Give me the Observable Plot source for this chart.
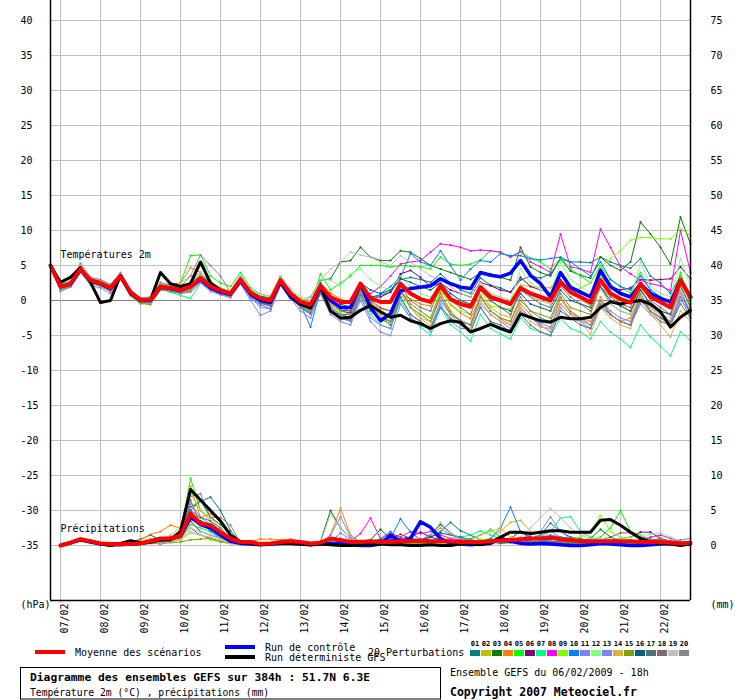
<!DOCTYPE html>
<html><head><meta charset="utf-8">
<script src="https://cdn.jsdelivr.net/npm/d3@7"></script>
<script src="https://cdn.jsdelivr.net/npm/@observablehq/plot@0.6"></script>
<style>
body{margin:0;background:#fff}
#wrap{position:relative;width:740px;height:700px;font-family:'DejaVu Sans Mono',monospace}
#wrap svg{display:block}
</style>
</head><body><div id="wrap"></div>
<script>
// ---- axis ticks / labels ----
const leftTicks = [-35,-30,-25,-20,-15,-10,-5,0,5,10,15,20,25,30,35,40];
const rightTicks = [0,5,10,15,20,25,30,35,40,45,50,55,60,65,70,75];
const precipBase = -35; // 0 mm on the right axis sits at -35 on the left axis
const dayLabels = ["07/02","08/02","09/02","10/02","11/02","12/02","13/02","14/02","15/02","16/02","17/02","18/02","19/02","20/02","21/02","22/02"];
const dayIdx = dayLabels.map((d,k)=>1+4*k); // step index (6h steps) of each 00h
const memberNames = ["01","02","03","04","05","06","07","08","09","10","11","12","13","14","15","16","17","18","19","20"];
const memberColors = ["#008080","#c0c000","#008000","#ff8000","#00ff00","#800080","#00ff80","#ff00ff","#80ff00","#0080ff","#8080ff","#80ff80","#8080ff","#e0b040","#80a000","#006080","#507080","#806870","#c0c0c0","#888888"];

// ---- temperature 2m (°C), 65 steps of 6h ----
const tMean = [5.0,2.0,2.4,4.5,2.9,2.5,1.8,3.5,1.2,0.1,0.1,2.0,1.8,1.5,2.0,3.2,2.0,1.4,1.0,3.0,1.1,0.3,0.0,2.9,1.0,-0.2,-0.6,2.1,0.5,-0.2,-0.2,2.4,0.3,-0.2,-0.2,2.4,1.0,0.2,-0.2,2.1,0.2,-0.5,-0.9,1.9,0.5,0.0,-0.5,1.8,1.0,0.5,0.0,2.6,1.2,0.5,-0.3,2.9,1.0,0.2,-0.3,2.4,0.5,-0.2,-1.0,2.9,0.5];
const tCtrl = [5.0,2.0,2.3,4.4,2.8,2.4,1.7,3.5,1.1,0.0,0.0,1.9,1.7,1.4,2.0,3.0,1.8,1.2,0.9,2.8,0.9,0.0,-0.3,2.6,0.5,-0.5,-1.0,1.8,0.0,-1.0,-1.0,2.4,-1.0,-2.9,-1.9,1.4,1.7,1.9,2.1,3.1,2.4,1.9,1.7,4.0,3.6,3.4,3.9,5.7,3.6,2.4,0.5,4.0,1.9,1.2,0.5,4.3,2.0,1.0,0.5,2.4,1.0,0.3,-0.2,2.9,0.5];
const tDet = [5.0,2.6,3.3,4.7,2.6,-0.3,0.0,3.6,1.0,0.1,0.1,4.0,2.4,2.0,2.4,5.5,2.5,1.5,1.0,3.0,1.0,0.2,-0.2,2.8,0.8,-0.5,-1.0,2.0,-1.5,-2.5,-2.4,-1.4,-0.7,-1.6,-2.4,-2.1,-2.9,-3.3,-4.0,-3.3,-2.9,-3.1,-4.5,-4.0,-3.4,-4.0,-4.5,-1.9,-2.4,-2.9,-3.1,-2.4,-2.6,-2.6,-2.4,-1.0,-0.2,-0.5,-0.2,0.0,-0.5,-1.6,-3.8,-2.4,-1.4];
const t01 = [5,1.8,2.2,4.3,2.7,2.3,1.6,3.4,1.0,0.0,0.2,2.2,1.9,1.7,2.5,3.6,2.4,1.6,1.1,3.1,1.3,0.4,-0.1,2.5,0.6,-0.8,-1.4,2.0,-0.6,-1.4,-1.5,1.9,0.5,0.8,1.2,3.0,3.3,3.0,2.6,3.8,2.5,1.5,1.0,3.2,2.2,1.8,1.2,2.9,3.5,3.2,3.8,5.9,5.5,5.5,5.4,6.2,5.5,5.0,4.6,6.0,3.5,2.5,1.0,3.5,-0.5];
const t02 = [5,1.4,2.0,4.2,2.5,2.0,1.3,3.2,0.6,-0.5,-0.4,1.6,1.4,1.2,1.6,3.0,1.8,1.0,0.6,2.6,0.6,-0.3,-0.6,2.6,0.4,-1.0,-1.8,1.6,-1.5,-2.8,-2.6,1.5,-1.2,-2.5,-3.0,1.6,-1.0,-2.6,-3.6,1.2,-1.8,-2.8,-3.5,0.8,-1.0,-2.0,-2.4,2.2,2.0,1.9,1.8,3.9,1.5,0.2,-0.8,4.8,1.0,-0.5,-1.6,2.0,-1.0,-2.5,-3.2,3.6,0.5];
const t03 = [5,2.2,2.6,4.6,3.0,2.6,2.0,3.6,1.3,0.2,0.3,2.3,2.0,1.8,2.6,4.0,2.4,1.6,1.2,3.2,1.4,0.6,0.4,3.3,1.0,0.0,0.5,2.9,3.1,5.5,5.7,7.6,6.2,5.7,5.7,7.1,6.9,6.0,5.0,4.5,4.0,3.5,3.0,4.0,3.8,3.3,2.9,7.6,4.8,4.0,3.5,6.0,4.2,3.6,3.2,6.2,5.0,4.3,5.5,11.2,9.5,7.6,5.2,11.9,8.1];
const t04 = [5,2.0,2.5,4.6,3.0,2.7,2.0,3.7,1.4,0.3,0.3,2.4,2.3,2.5,4.7,4.0,2.6,1.8,1.3,3.0,1.0,0.2,-0.3,2.6,1.2,0.3,-0.3,2.5,1.1,0.2,-0.2,1.8,-0.3,-1.2,-1.5,1.0,0.2,-0.5,-0.8,1.6,-0.6,-1.8,-2.6,0.6,-1.5,-2.6,-3.5,-0.5,-2.0,-3.8,-4.0,0.3,-1.8,-2.5,-3.0,0.5,-2.0,-3.0,-2.5,0.6,-1.6,-2.4,-3.0,0.5,-1.2];
const t05 = [5,2.3,2.8,4.8,3.2,2.8,2.2,3.9,1.4,0.4,0.5,2.6,1.5,2.5,6.4,6.5,3.5,2.5,2.0,4.0,1.8,0.9,0.6,3.4,1.2,-0.5,-0.8,3.8,1.5,2.5,3.5,5.0,5.0,5.0,4.8,5.0,4.9,4.8,4.5,6.2,5.2,5.0,5.2,5.8,7.1,6.9,6.2,7.0,6.0,5.5,4.5,6.0,4.5,3.5,2.5,5.0,3.0,2.0,1.0,4.0,1.5,0.5,-0.5,4.0,-0.5];
const t06 = [5,1.9,2.3,4.4,2.9,2.6,1.9,3.6,1.1,0.0,0.2,2.0,1.7,1.4,1.9,3.1,1.9,1.3,0.8,2.9,0.9,0.0,-0.3,2.8,0.6,-0.3,-1.0,2.0,-0.5,-1.5,-1.8,1.5,0.5,0.5,1.2,3.8,4.3,3.3,2.0,2.5,1.5,1.0,0.5,2.6,2.1,1.5,1.2,3.3,2.0,1.5,1.0,3.0,1.6,1.0,0.8,3.5,2.0,1.5,1.8,3.0,2.9,3.0,3.1,4.8,3.1];
const t07 = [5,1.6,2.0,4.3,2.6,2.2,1.5,3.3,0.9,-0.3,-0.2,1.7,1.2,0.7,0.3,2.5,1.5,1.0,0.6,2.7,0.8,-0.2,-0.5,2.6,0.5,-0.8,-1.5,1.5,-1.0,-2.5,-3.0,0.5,-2.0,-3.5,-4.0,0.0,-2.5,-3.8,-5.0,-1.0,-3.5,-4.5,-5.8,-2.0,-4.0,-4.8,-5.5,-2.5,-4.0,-4.5,-5.0,-2.5,-4.0,-4.5,-5.5,-3.0,-4.5,-5.5,-6.7,-3.5,-5.2,-6.5,-7.9,-4.5,-5.7];
const t08 = [5,2.0,2.4,4.5,2.8,2.4,1.7,3.4,1.1,0.0,0.0,2.1,1.9,1.6,2.2,3.3,2.1,1.3,0.8,2.9,0.8,-0.4,-0.8,2.7,0.5,-0.5,-1.2,1.8,-1.5,-2.6,-2.2,1.5,1.0,2.0,3.5,5.2,5.5,5.7,6.9,8.1,7.9,7.6,7.1,7.2,7.1,6.9,6.2,7.0,5.5,4.8,4.0,9.5,4.8,4.5,4.0,10.2,7.6,4.8,3.8,2.9,2.4,2.1,1.4,10.0,4.0];
const t09 = [5,1.7,2.2,4.3,2.7,2.3,1.6,3.3,0.9,-0.3,-0.3,1.8,1.5,1.3,1.8,3.0,1.8,1.2,0.8,3.0,0.9,0.0,-0.4,2.8,0.7,-0.8,-1.5,1.5,-0.8,-1.8,-2.5,1.0,-1.5,-2.8,-3.2,1.0,-1.0,-2.0,-2.5,1.5,-0.5,-1.5,-2.0,1.5,-0.8,-1.0,-1.2,2.0,0.5,0.0,-0.5,2.5,1.5,1.8,2.5,4.8,6.0,7.1,8.6,9.0,9.0,8.8,8.8,10.2,9.3];
const t10 = [5,1.8,2.3,4.4,2.9,2.4,1.6,3.4,1.1,0.1,0.1,2.0,1.7,1.4,1.8,2.9,1.6,1.0,0.5,2.6,0.4,-0.6,-1.2,2.5,0.5,-0.5,-3.8,1.5,-1.5,-2.0,-2.0,1.0,-0.5,1.0,2.0,3.3,6.7,5.5,5.0,7.1,5.0,2.9,4.5,5.7,5.5,6.7,6.4,6.4,6.0,5.8,6.0,6.2,5.5,4.5,3.5,5.5,3.0,2.0,1.5,3.5,1.5,0.5,-0.5,3.0,0.0];
const t11 = [5,1.3,1.9,4.0,2.2,1.8,1.0,3.0,0.7,-0.4,-0.3,1.6,1.3,1.0,1.2,2.5,1.3,0.8,0.4,2.4,0.0,-2.1,-1.5,2.2,0.3,-1.5,-2.5,1.0,-2.0,-3.0,-3.5,0.0,-3.0,-4.5,-5.0,-0.5,-2.5,-3.5,-4.0,0.0,-2.0,-2.8,-3.5,-0.5,-2.0,-3.0,-4.0,-1.0,-2.5,-3.2,-3.8,-0.5,-2.0,-2.8,-3.5,0.0,-1.5,-2.5,-3.0,0.5,-1.0,-2.0,-3.0,1.0,-2.0];
const t12 = [5,2.1,2.6,4.7,3.1,2.8,2.1,3.8,1.4,0.3,0.4,2.4,2.0,1.7,2.3,3.5,2.3,1.7,1.4,3.6,1.6,0.8,0.6,3.4,1.5,0.5,0.0,3.0,2.9,2.0,3.8,4.5,3.0,2.0,1.5,3.5,2.0,1.0,0.5,2.5,1.0,0.0,-0.5,2.5,1.0,0.5,0.0,4.5,2.5,1.5,1.0,5.5,3.0,2.0,1.0,3.5,1.5,0.5,0.0,5.5,2.0,1.0,0.5,6.0,2.0];
const t13 = [5,1.5,2.0,4.2,2.5,2.1,1.3,3.2,0.8,-0.2,-0.2,1.7,1.4,1.1,1.5,2.7,1.5,1.0,0.5,2.6,0.5,-1.0,-1.2,2.4,0.4,-1.0,-2.0,1.2,-1.0,-2.5,-3.0,0.5,-2.5,-3.5,-4.0,0.5,-2.0,-3.0,-4.5,-0.5,-3.0,-4.0,-4.0,-1.0,-3.0,-4.0,-4.2,-1.5,-2.5,-3.5,-4.5,-1.0,-2.5,-3.0,-4.0,-1.0,-2.0,-3.0,-3.5,-0.5,-2.0,-3.0,-3.5,0.0,-1.5];
const t14 = [5,1.9,2.4,4.5,2.9,2.6,1.8,3.5,1.2,0.0,0.1,2.0,2.0,2.5,3.5,3.8,2.8,1.5,0.9,2.9,0.9,0.0,-0.5,2.6,0.6,-0.5,-1.0,1.5,-0.5,-1.5,-2.0,1.0,-1.5,-2.5,-3.0,1.2,-1.0,-2.5,-3.0,0.5,-2.0,-3.5,-4.0,0.0,-2.0,-3.0,-3.5,-1.0,-3.0,-3.8,-4.0,-0.5,-2.0,-3.0,-4.8,-1.0,-2.5,-3.5,-4.0,0.5,-2.0,-3.5,-5.2,-1.5,-3.0];
const t15 = [5,1.6,2.1,4.2,2.6,2.1,1.4,3.2,0.8,-0.4,-0.6,1.5,1.3,1.0,1.4,2.8,1.6,1.0,0.6,2.6,0.6,-0.2,-0.6,2.5,0.4,-0.8,-1.5,1.5,-1.0,-2.0,-2.5,1.5,-1.0,-2.0,-3.0,1.5,-0.5,-1.5,-2.5,1.0,-1.5,-3.0,-3.5,0.5,-1.5,-2.5,-3.0,0.0,-1.5,-2.0,-2.5,1.0,-1.0,-1.5,-2.0,2.0,-0.5,-1.5,-2.0,1.5,-0.5,-1.5,-2.0,2.5,-1.0];
const t16 = [5,2.0,2.5,4.6,3.0,2.6,1.9,3.6,1.2,0.1,0.2,2.1,1.9,1.6,2.1,3.3,2.1,1.5,1.1,3.1,1.2,0.4,0.1,3.0,1.0,-0.3,-0.8,2.5,0.5,-0.5,-1.0,2.5,1.5,1.0,1.5,3.1,2.6,2.0,1.5,2.5,1.0,0.0,-0.5,1.5,0.0,-1.0,-1.5,1.0,-0.5,-1.0,-1.5,1.5,0.0,-0.5,-1.0,2.0,0.0,-0.8,-1.5,1.5,-0.5,-1.5,-2.0,1.5,-1.8];
const t17 = [5,1.8,2.3,4.4,2.8,2.4,1.7,3.4,1.0,-0.1,0.0,1.9,1.6,1.3,1.8,3.0,1.8,1.2,0.7,2.8,0.7,-0.3,-0.7,2.6,0.4,-1.0,-1.8,1.0,-1.5,-2.5,-2.8,0.8,-1.5,-2.5,-3.5,0.5,-2.0,-3.0,-4.0,-1.0,-2.5,-3.5,-4.5,-1.0,-3.0,-3.5,-4.5,-2.0,-3.5,-4.5,-5.0,-1.5,-2.5,-3.5,-4.0,-0.5,-2.0,-3.0,-3.5,0.0,-1.5,-2.5,-3.5,-0.5,-2.5];
const t18 = [5,1.9,2.4,4.6,3.0,2.7,2.0,3.6,1.3,0.2,0.2,2.1,1.8,1.5,2.0,3.4,2.1,1.4,1.0,3.0,1.0,0.2,-0.2,2.9,0.8,-0.5,-1.2,2.0,0.0,-1.0,-1.5,2.0,0.0,-1.0,-1.5,2.0,0.0,-1.0,-1.5,2.0,0.0,-1.0,-2.0,1.5,0.0,-1.0,-2.0,1.5,0.5,-0.5,-1.0,2.0,0.5,-0.5,-1.5,2.0,0.5,-0.5,-1.0,2.5,0.0,-1.0,-2.0,2.0,-1.0];
const t19 = [5,2.2,2.7,4.9,3.2,2.9,2.2,3.9,1.5,0.4,0.5,2.4,2.1,1.9,2.6,4.0,2.6,1.8,1.4,3.5,1.6,0.9,0.7,3.5,1.8,0.0,0.5,3.0,4.5,5.5,6.9,6.5,6.2,5.5,5.0,6.4,5.5,4.5,3.5,2.9,2.0,1.0,0.5,2.5,1.0,0.5,0.0,2.0,0.5,0.0,-0.5,2.5,1.0,0.0,-0.5,1.5,-0.5,-1.5,-2.0,1.0,-1.0,-2.0,-2.5,1.5,-1.5];
const t20 = [5,2.1,2.6,5.3,3.3,3.0,2.3,4.0,1.5,0.3,0.4,2.5,2.2,2.0,3.5,6.5,5.0,3.5,1.2,3.3,1.3,0.5,0.2,3.1,1.0,-1.0,-1.5,1.5,-1.0,-2.0,-2.5,1.0,-1.5,-2.5,-3.0,1.5,-1.0,-2.0,-3.0,0.5,-2.0,-3.0,-3.5,0.5,-1.5,-2.5,-3.0,0.5,-1.5,-2.5,-3.0,0.5,-1.5,-2.5,-3.5,0.0,-2.0,-3.0,-3.5,1.0,-1.5,-3.0,-3.5,0.5,-2.5];

// ---- precipitation (mm per 6h), first step has no value ----
const pMean = [null,0.0,0.4,0.9,0.6,0.3,0.2,0.2,0.2,0.3,0.6,1.0,1.0,1.4,4.6,3.1,2.9,1.9,1.0,0.5,0.5,0.2,0.3,0.5,0.6,0.5,0.3,0.4,1.0,0.8,0.5,0.5,0.6,0.5,0.5,0.6,0.6,0.7,0.6,0.6,0.6,0.5,0.5,0.5,0.6,0.7,0.8,0.9,1.0,1.0,1.1,0.9,0.8,0.6,0.6,0.6,0.6,0.6,0.6,0.5,0.5,0.5,0.4,0.3,0.4];
const pCtrl = [null,0.0,0.4,0.8,0.5,0.2,0.1,0.1,0.2,0.3,0.5,0.9,1.0,1.3,4.1,3.0,2.5,1.5,0.6,0.3,0.2,0.1,0.2,0.3,0.3,0.2,0.1,0.2,0.3,0.2,0.1,0.0,0.0,0.2,1.5,0.5,1.0,3.4,2.6,1.0,0.3,0.2,0.1,0.2,0.3,1.0,0.6,0.3,0.2,0.3,0.2,0.1,0.0,0.0,0.1,0.3,0.2,0.1,0.0,0.0,0.1,0.2,0.3,0.2,0.3];
const pDet = [null,0.0,0.4,0.8,0.6,0.2,0.0,0.3,0.7,0.4,0.5,0.8,0.8,2.0,8.0,6.5,5.0,3.5,1.5,0.5,0.3,0.1,0.2,0.3,0.3,0.2,0.1,0.2,0.1,0.0,0.0,0.1,0.1,0.2,0.1,0.1,0.0,0.0,0.1,0.0,0.0,0.2,0.3,0.1,0.4,1.2,1.9,1.9,1.7,1.9,2.1,2.1,1.9,1.9,1.9,3.6,3.7,2.9,1.9,1.0,0.5,0.3,0.2,0.0,0.2];
const p01 = [null,0.0,0.3,0.8,0.5,0.2,0.1,0.3,0.5,0.9,1.5,0.8,1.2,2.0,5.5,6.3,6.9,5.0,2.1,0.5,0.3,0.1,0.2,0.3,0.2,0.1,0.1,0.2,0.4,0.3,0.2,0.3,0.6,0.9,2.0,0.8,0.5,0.6,1.2,2.0,3.3,2.1,1.5,0.8,0.5,0.3,0.4,0.6,1.0,1.5,3.2,2.0,1.2,1.0,0.6,0.4,0.3,0.3,0.4,0.5,0.4,0.3,0.3,0.2,0.3];
const p02 = [null,0.0,0.4,0.9,0.6,0.3,0.2,0.1,0.2,0.3,0.4,0.5,0.8,1.0,3.0,2.5,2.0,1.2,0.6,0.3,0.2,0.1,0.1,0.2,0.2,0.1,0.0,0.1,0.2,0.3,0.2,0.1,0.1,0.2,0.3,0.2,0.3,0.4,0.5,0.4,0.3,0.2,0.3,0.5,1.0,2.0,3.3,3.6,2.0,1.0,0.6,0.4,0.3,0.2,0.2,0.3,0.4,0.3,0.2,0.2,0.3,0.2,0.2,0.1,0.2];
const p03 = [null,0.0,0.5,1.0,0.7,0.3,0.2,0.2,0.3,0.4,0.7,0.6,1.0,1.5,5.0,6.5,4.0,3.0,1.5,0.4,0.3,0.2,0.2,0.3,0.4,0.3,0.2,0.6,5.0,2.5,1.0,0.6,0.8,2.3,1.0,1.6,1.0,0.8,1.5,3.0,1.8,1.0,0.6,0.4,0.5,0.8,1.0,2.0,1.2,0.6,0.5,0.4,0.3,0.6,1.0,2.3,1.2,0.6,0.4,0.3,0.3,0.2,0.2,0.2,0.3];
const p04 = [null,0.0,0.4,0.9,0.6,0.3,0.3,0.4,0.5,0.8,1.6,2.0,2.9,2.5,8.5,4.0,4.5,3.5,1.5,0.5,0.6,0.9,0.9,0.8,0.9,0.6,0.3,0.3,1.5,5.3,1.5,0.5,0.3,0.2,0.2,0.3,0.4,0.3,0.5,0.6,0.4,0.3,0.5,0.6,0.9,1.2,0.8,0.6,0.5,0.8,0.6,0.4,0.5,0.6,0.4,0.3,0.3,0.4,0.5,0.6,0.5,0.4,0.3,0.2,0.3];
const p05 = [null,0.0,0.4,1.0,0.7,0.3,0.2,0.2,0.3,0.4,0.8,0.5,1.0,1.8,9.6,5.0,3.5,2.0,0.8,0.3,0.2,0.1,0.2,0.3,0.2,0.1,0.1,0.3,0.4,0.5,0.3,0.2,0.3,0.4,0.5,0.6,0.4,0.3,0.4,0.5,0.6,0.8,1.0,1.5,2.3,1.2,0.8,0.5,0.4,0.3,0.4,0.6,0.5,0.5,0.8,1.2,2.5,5.0,2.0,1.5,0.8,0.6,0.5,0.4,0.3];
const p06 = [null,0.0,0.3,0.8,0.5,0.2,0.1,0.1,0.2,0.3,0.5,0.3,0.5,1.0,3.5,2.0,1.5,1.0,0.5,0.2,0.2,0.1,0.1,0.2,0.2,0.1,0.1,0.2,0.3,0.2,0.1,0.2,0.4,0.6,0.8,1.0,1.2,1.9,1.2,0.8,0.6,0.4,0.3,0.3,0.4,0.5,0.6,0.5,0.4,0.3,0.3,0.4,0.5,0.4,0.5,0.6,0.8,1.0,1.2,1.9,1.9,1.0,0.6,0.4,0.3];
const p07 = [null,0.0,0.4,0.9,0.6,0.3,0.2,0.2,0.2,0.3,0.6,0.5,0.8,1.2,3.0,2.5,2.0,1.5,0.5,0.2,0.2,0.1,0.2,0.3,0.3,0.2,0.1,0.2,0.3,0.4,0.3,0.2,0.3,0.3,0.4,0.5,0.6,0.5,0.6,0.8,1.0,1.2,1.5,2.1,1.5,1.0,0.8,0.6,0.8,1.2,2.0,3.9,4.1,2.0,1.2,0.8,0.6,0.5,0.4,0.4,0.3,0.3,0.3,0.2,0.3];
const p08 = [null,0.0,0.3,0.7,0.5,0.2,0.1,0.1,0.1,0.2,0.4,0.2,0.5,1.0,2.5,1.5,1.0,0.5,0.3,0.1,0.1,0.1,0.1,0.2,0.2,0.1,0.1,0.2,0.3,0.5,0.7,1.7,3.9,1.0,1.7,1.2,2.0,1.7,2.0,1.5,1.0,0.8,0.6,0.5,0.4,0.6,0.8,0.6,0.5,0.4,0.3,0.4,0.5,0.6,0.5,0.4,0.3,0.4,0.6,0.8,1.2,1.5,1.0,0.6,0.4];
const p09 = [null,0.0,0.3,0.7,0.4,0.2,0.1,0.1,0.1,0.2,0.3,0.3,0.5,0.8,1.8,1.5,0.8,0.5,0.3,0.2,0.1,0.1,0.1,0.2,0.2,0.1,0.1,0.2,0.3,0.3,0.2,0.2,0.3,0.4,0.3,0.4,0.5,0.6,0.5,0.4,0.4,0.5,0.6,0.8,1.0,0.9,0.8,0.7,0.6,0.8,0.8,0.9,1.0,1.2,2.0,4.3,2.0,1.2,0.8,0.6,0.5,0.4,0.3,0.2,0.3];
const p10 = [null,0.0,0.4,0.9,0.6,0.3,0.2,0.2,0.2,0.3,0.7,0.5,1.0,1.5,4.5,3.5,2.0,1.0,0.5,0.2,0.2,0.1,0.2,0.2,0.2,0.1,0.1,0.2,0.3,0.4,0.3,0.2,0.3,0.5,1.0,3.8,1.9,0.8,0.6,0.5,0.4,0.3,0.4,0.5,1.0,2.5,5.5,2.0,1.0,0.8,0.6,0.5,0.4,0.3,0.3,0.4,0.3,0.3,0.2,0.2,0.3,0.2,0.2,0.1,0.2];
const p11 = [null,0.0,0.5,1.0,0.7,0.3,0.2,0.2,0.3,0.4,0.8,0.8,1.2,2.0,6.0,4.0,3.0,2.0,1.0,0.3,0.2,0.2,0.2,0.3,0.3,0.2,0.2,0.3,1.5,4.1,1.2,0.5,0.3,0.2,0.3,0.4,0.5,0.4,0.3,0.5,0.6,0.5,0.4,0.5,0.6,0.8,0.6,0.5,0.8,1.5,2.0,1.2,0.8,0.6,0.5,0.4,0.4,0.3,0.3,0.4,0.5,0.4,0.3,0.2,0.3];
const p12 = [null,0.0,0.4,0.8,0.5,0.2,0.1,0.1,0.2,0.3,0.5,0.4,0.6,1.0,2.5,2.0,1.5,1.0,0.3,0.1,0.1,0.1,0.1,0.2,0.2,0.1,0.1,0.2,0.3,0.4,0.6,0.8,0.6,0.4,0.3,0.4,0.5,0.4,0.3,0.4,0.5,0.6,0.5,0.4,0.5,0.6,0.8,0.6,0.5,0.4,0.4,0.5,0.6,0.5,0.4,0.6,0.8,1.0,1.2,1.4,1.6,1.8,1.2,0.6,0.4];
const p13 = [null,0.0,0.4,0.9,0.6,0.3,0.2,0.2,0.2,0.4,0.6,0.5,0.8,1.5,3.8,3.0,2.5,1.5,0.6,0.2,0.2,0.1,0.2,0.2,0.2,0.1,0.1,0.2,0.5,1.8,0.8,0.4,0.3,0.3,0.4,0.5,0.6,0.5,0.4,0.5,0.6,0.5,0.4,0.4,0.5,0.6,0.8,1.0,1.5,2.0,4.1,2.0,1.0,0.6,0.5,0.4,0.4,0.3,0.3,0.4,0.5,0.4,0.3,0.2,0.3];
const p14 = [null,0.0,0.4,0.9,0.6,0.3,0.2,0.3,0.4,0.6,1.0,0.8,1.5,2.5,7.5,5.0,4.0,2.5,1.0,0.3,0.3,0.2,0.2,0.3,0.3,0.2,0.1,0.2,0.3,0.4,0.3,0.2,0.3,0.4,0.5,0.6,0.5,0.4,0.5,0.6,0.5,0.6,0.8,1.5,2.0,2.5,1.2,0.8,0.6,0.5,0.4,0.5,0.6,0.5,0.4,0.4,0.3,0.3,0.4,0.5,0.4,0.3,0.2,0.2,0.3];
const p15 = [null,0.0,0.3,0.6,0.4,0.2,0.1,0.1,0.1,0.2,0.3,0.3,0.4,0.5,0.8,0.9,1.0,0.6,0.4,0.2,0.1,0.1,0.1,0.2,0.2,0.1,0.1,0.1,0.2,0.2,0.2,0.2,0.3,0.3,0.3,0.4,0.4,0.3,0.3,0.4,0.4,0.5,0.6,0.5,0.4,0.5,0.6,0.5,0.4,0.3,0.3,0.4,0.4,0.3,0.3,0.4,0.5,0.4,0.3,0.6,0.8,1.0,0.6,0.4,0.3];
const p16 = [null,0.0,0.4,0.9,0.6,0.3,0.2,0.2,0.2,0.3,0.6,0.6,1.0,1.5,4.0,3.5,3.0,2.0,0.8,0.3,0.2,0.2,0.2,0.3,0.3,0.2,0.1,0.2,0.4,0.6,0.5,0.4,0.5,0.8,1.2,0.8,0.6,0.8,1.2,1.8,1.5,1.2,0.8,0.6,0.5,0.4,0.5,0.6,0.8,1.0,1.4,1.2,1.0,0.8,0.6,0.5,0.4,0.5,0.6,0.5,0.4,0.3,0.3,0.2,0.3];
const p17 = [null,0.0,0.4,0.9,0.6,0.3,0.2,0.2,0.3,0.4,0.7,0.5,0.9,1.5,5.0,4.0,3.5,2.5,1.0,0.3,0.2,0.2,0.2,0.3,0.3,0.2,0.2,0.3,0.4,0.5,0.4,0.3,0.3,0.4,0.5,0.6,0.5,0.4,0.6,0.8,0.6,0.5,0.4,0.5,0.6,0.7,0.8,0.7,0.6,0.5,0.5,0.6,0.7,0.6,0.5,0.5,0.4,0.5,0.6,0.8,0.9,0.8,0.6,0.5,0.6];
const p18 = [null,0.0,0.4,0.8,0.5,0.2,0.1,0.1,0.2,0.3,0.5,0.4,0.6,1.0,6.5,3.0,2.5,1.5,0.6,0.2,0.2,0.1,0.1,0.2,0.2,0.1,0.1,0.2,0.3,0.3,0.3,0.2,0.3,0.4,0.4,0.5,0.6,0.5,0.5,0.6,0.5,0.4,0.4,0.5,0.6,0.6,0.7,0.6,0.5,0.5,0.4,0.5,0.6,0.5,0.6,0.8,1.2,1.8,1.8,1.2,0.8,0.6,0.5,0.4,0.5];
const p19 = [null,0.0,0.4,0.9,0.6,0.3,0.2,0.2,0.2,0.3,0.5,0.3,0.5,1.0,2.0,1.5,1.2,0.8,0.4,0.2,0.2,0.1,0.1,0.2,0.2,0.1,0.1,0.4,4.5,2.5,1.0,0.5,0.4,0.3,0.4,0.5,0.6,0.8,1.5,3.3,1.8,1.0,0.6,0.5,0.4,0.5,0.8,1.2,2.5,4.0,5.3,4.0,2.5,1.5,1.0,0.8,0.6,0.5,0.5,0.4,0.4,0.3,0.3,0.4,0.6];
const p20 = [null,0.0,0.5,1.0,0.7,0.3,0.2,0.2,0.3,0.4,0.8,0.6,1.0,1.5,7.0,7.4,4.0,4.0,2.9,0.4,0.3,0.2,0.2,0.3,0.3,0.2,0.2,0.3,0.6,0.8,0.6,0.4,0.3,0.3,0.4,0.5,0.6,0.8,1.5,2.5,1.5,1.0,0.8,0.6,0.5,0.5,0.6,0.8,1.0,1.2,1.5,1.2,0.8,0.6,0.5,0.5,0.4,0.4,0.5,0.6,0.8,0.8,0.6,0.8,1.0];

// ---- build tables ----
const tMembers = [t01,t02,t03,t04,t05,t06,t07,t08,t09,t10,t11,t12,t13,t14,t15,t16,t17,t18,t19,t20];
const pMembers = [p01,p02,p03,p04,p05,p06,p07,p08,p09,p10,p11,p12,p13,p14,p15,p16,p17,p18,p19,p20];
const tRows = tMembers.flatMap((arr,k)=>arr.map((v,i)=>({k,i,v,c:memberColors[k]})));
const pRows = pMembers.flatMap((arr,k)=>arr.map((v,i)=>({k,i,v,c:memberColors[k]}))).filter(d=>d.v!=null);
const ser = arr => arr.map((v,i)=>({i,v})).filter(d=>d.v!=null);
const py = d => d.v + precipBase;
const FONT = "DejaVu Sans Mono";

const chart = Plot.plot({
  width: 740, height: 640,
  marginLeft: 50, marginRight: 50, marginTop: 0, marginBottom: 40,
  x: {domain: [0, 64], axis: null},
  y: {domain: [-300/7, 300/7], axis: null},
  color: {type: "identity"},
  style: {fontFamily: FONT, fontSize: "10px", background: "white", overflow: "visible"},
  marks: [
    Plot.ruleY(leftTicks, {stroke: d => d === 0 ? "#808080" : "#c0c0c0", strokeWidth: 1}),
    Plot.ruleX(dayIdx, {stroke: "#c0c0c0", strokeWidth: 1, insetBottom: -3}),
    // perturbation members
    Plot.line(tRows, {x: "i", y: "v", z: "k", stroke: "c", strokeWidth: 1}),
    Plot.dot(tRows, {x: "i", y: "v", r: 1.1, fill: "c", stroke: null}),
    Plot.line(pRows, {x: "i", y: py, z: "k", stroke: "c", strokeWidth: 1}),
    Plot.dot(pRows, {x: "i", y: py, r: 1.1, fill: "c", stroke: null}),
    // control, deterministic, mean
    Plot.line(ser(tCtrl), {x: "i", y: "v", stroke: "#0000ff", strokeWidth: 3.5}),
    Plot.line(ser(pCtrl), {x: "i", y: py, stroke: "#0000ff", strokeWidth: 3.5}),
    Plot.line(ser(tDet), {x: "i", y: "v", stroke: "#000000", strokeWidth: 3}),
    Plot.line(ser(pDet), {x: "i", y: py, stroke: "#000000", strokeWidth: 3}),
    Plot.line(ser(tMean), {x: "i", y: "v", stroke: "#ff0000", strokeWidth: 4}),
    Plot.line(ser(pMean), {x: "i", y: py, stroke: "#ff0000", strokeWidth: 4}),
    // frame lines
    Plot.ruleX([0, 64], {stroke: "black", strokeWidth: 1.5}),
    Plot.ruleY([-300/7], {stroke: "black", strokeWidth: 1.5}),
    // tick labels
    Plot.text(leftTicks, {y: d => d, text: d => String(d), frameAnchor: "left", dx: -30, textAnchor: "start", fill: "black", fontFamily: FONT, fontSize: 10}),
    Plot.text(rightTicks, {y: d => d + precipBase, text: d => String(d), frameAnchor: "right", dx: 20, textAnchor: "start", fill: "black", fontFamily: FONT, fontSize: 10}),
    Plot.text(dayLabels, {x: (d,k) => dayIdx[k], text: d => d, frameAnchor: "bottom", rotate: -90, textAnchor: "end", dx: 7, dy: 3, fill: "black", fontFamily: FONT, fontSize: 10}),
    Plot.text(["(hPa)"], {frameAnchor: "bottom-left", dx: -30, dy: 7, textAnchor: "start", fill: "black", fontFamily: FONT, fontSize: 10}),
    Plot.text(["(mm)"], {frameAnchor: "bottom-right", dx: 20, dy: 7, textAnchor: "start", fill: "black", fontFamily: FONT, fontSize: 10}),
    Plot.text(["Températures 2m"], {x: 1, y: 6.6, textAnchor: "start", fill: "black", fontFamily: FONT, fontSize: 10}),
    Plot.text(["Précipitations"], {x: 1, y: -32.6, textAnchor: "start", fill: "black", fontFamily: FONT, fontSize: 10})
  ]
});
const wrap = document.getElementById("wrap");
wrap.appendChild(chart);

// ---- legend + caption block below the chart ----
const leg = d3.select(wrap).append("svg").attr("width", 740).attr("height", 60)
  .style("font-family", FONT).style("display", "block");
leg.append("rect").attr("x",35).attr("y",10).attr("width",30).attr("height",4).attr("fill","#ff0000");
leg.append("text").attr("x",75).attr("y",12).attr("dominant-baseline","central").attr("font-size",10).text("Moyenne des scénarios");
leg.append("rect").attr("x",225).attr("y",5).attr("width",30).attr("height",4).attr("fill","#0000ff");
leg.append("text").attr("x",265).attr("y",7).attr("dominant-baseline","central").attr("font-size",10).text("Run de contrôle");
leg.append("rect").attr("x",225).attr("y",15).attr("width",30).attr("height",4).attr("fill","#000000");
leg.append("text").attr("x",265).attr("y",17).attr("dominant-baseline","central").attr("font-size",10).text("Run déterministe GFS");
leg.append("text").attr("x",368).attr("y",12).attr("dominant-baseline","central").attr("font-size",10).text("20 Perturbations");
memberNames.forEach((n,k)=>{
  leg.append("text").attr("x",470+11*k+5).attr("y",4).attr("text-anchor","middle").attr("dominant-baseline","central")
    .attr("font-size",7).attr("font-weight","bold").text(n);
  leg.append("rect").attr("x",470+11*k).attr("y",10).attr("width",10).attr("height",6).attr("fill",memberColors[k]);
});
leg.append("rect").attr("x",20.5).attr("y",27.5).attr("width",420).attr("height",31.5).attr("fill","none").attr("stroke","black");
leg.append("text").attr("x",30).attr("y",37.5).attr("dominant-baseline","central").attr("font-size",11.3).attr("font-weight","bold")
  .text("Diagramme des ensembles GEFS sur 384h : 51.7N 6.3E");
leg.append("text").attr("x",30).attr("y",52).attr("dominant-baseline","central").attr("font-size",9.7)
  .text("Température 2m (°C) , précipitations (mm)");
leg.append("text").attr("x",450).attr("y",32.5).attr("dominant-baseline","central").attr("font-size",10)
  .text("Ensemble GEFS du 06/02/2009 - 18h");
leg.append("text").attr("x",450).attr("y",52).attr("dominant-baseline","central").attr("font-size",11.5).attr("font-weight","bold")
  .text("Copyright 2007 Meteociel.fr");
</script></body></html>
